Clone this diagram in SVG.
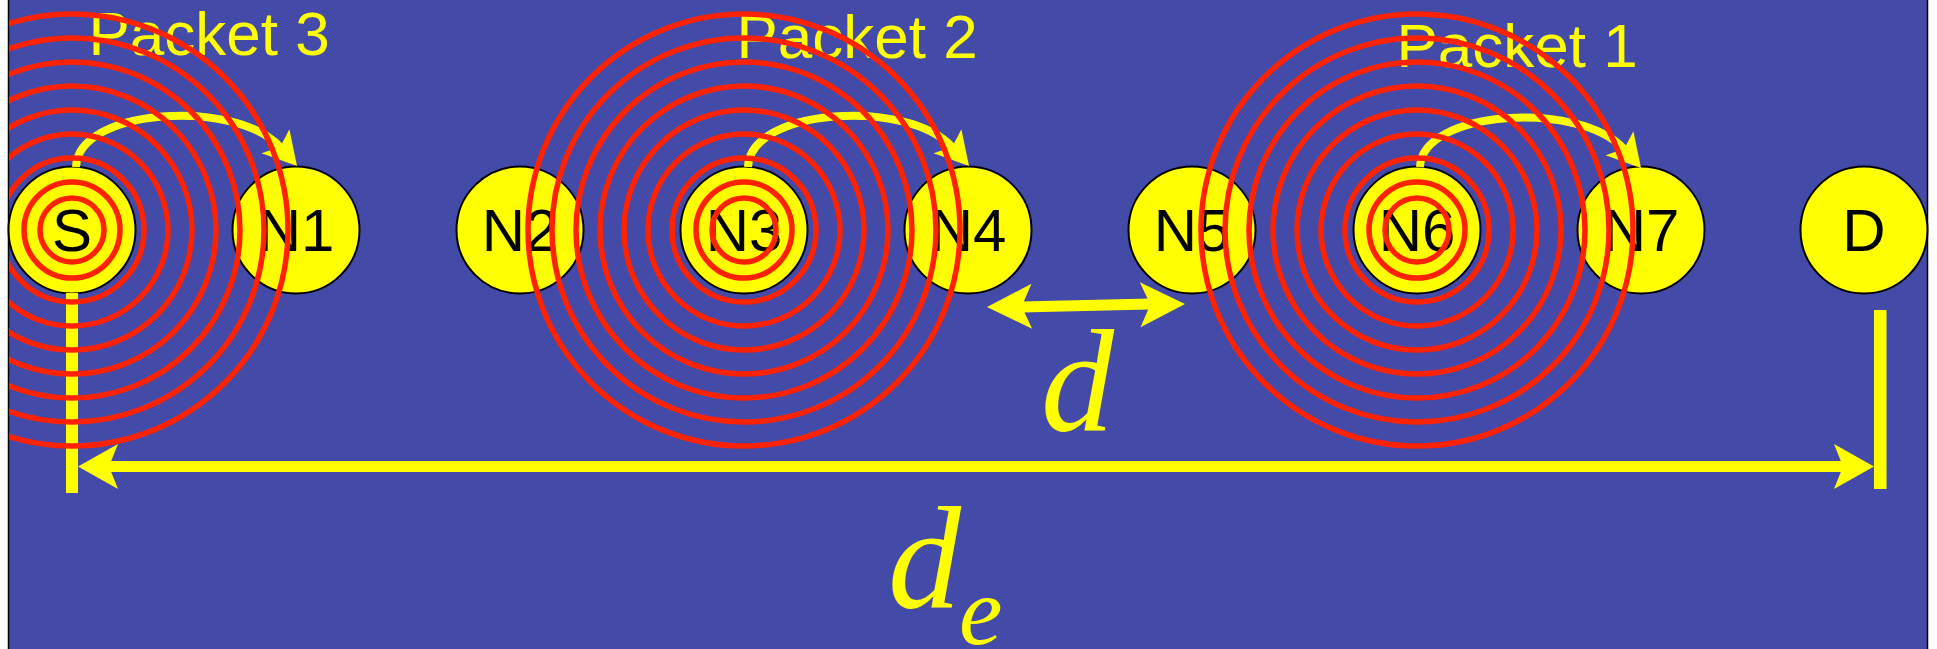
<svg xmlns="http://www.w3.org/2000/svg" xmlns:xlink="http://www.w3.org/1999/xlink" width="1937" height="649" viewBox="0 0 1937 649">
<style>
.node circle{fill:#ffff00;stroke:#000;stroke-width:2}
.nlabel{font-family:"Liberation Sans",Arial,sans-serif;font-size:60px;fill:#000;text-anchor:middle}
.plabel{font-family:"Liberation Sans",Arial,sans-serif;font-size:62px;fill:#ffff00;text-anchor:middle}
.math{font-family:"Liberation Serif","Times New Roman",serif;font-style:italic;fill:#ffff00}
.wave circle{fill:none;stroke:#ff2200;stroke-width:5.5}
.hop{fill:none;stroke:#ffff00;stroke-width:8}
.bar{fill:#ffff00}
.ah{fill:#ffff00}
</style>
<defs>
<path id="ah" d="M0 0 L-40 -22.5 L-31 0 L-40 22.5 Z"/>
<g id="waves" class="wave">
<circle r="32"/><circle r="48"/><circle r="72"/><circle r="96"/><circle r="120"/><circle r="144"/><circle r="168"/><circle r="192"/><circle r="216"/>
</g>
<clipPath id="bg"><rect x="9" y="0" width="1918" height="649"/></clipPath>
</defs>
<rect x="0" y="0" width="1937" height="649" fill="#ffffff"/>
<rect x="8.5" y="-5" width="1919" height="660" fill="#444aa8" stroke="#000" stroke-width="1.5"/>

<g id="node-S" class="node"><circle cx="72" cy="230" r="63.5"/><text class="nlabel" x="72" y="251">S</text></g>
<g id="node-N1" class="node"><circle cx="296" cy="230" r="63.5"/><text class="nlabel" x="296" y="251">N1</text></g>
<g id="node-N2" class="node"><circle cx="520" cy="230" r="63.5"/><text class="nlabel" x="520" y="251">N2</text></g>
<g id="node-N3" class="node"><circle cx="744" cy="230" r="63.5"/><text class="nlabel" x="744" y="251">N3</text></g>
<g id="node-N4" class="node"><circle cx="968" cy="230" r="63.5"/><text class="nlabel" x="968" y="251">N4</text></g>
<g id="node-N5" class="node"><circle cx="1192" cy="230" r="63.5"/><text class="nlabel" x="1192" y="251">N5</text></g>
<g id="node-N6" class="node"><circle cx="1417" cy="230" r="63.5"/><text class="nlabel" x="1417" y="251">N6</text></g>
<g id="node-N7" class="node"><circle cx="1641" cy="230" r="63.5"/><text class="nlabel" x="1641" y="251">N7</text></g>
<g id="node-D" class="node"><circle cx="1864" cy="230" r="63.5"/><text class="nlabel" x="1864" y="251">D</text></g>

<g id="connectors">
<g id="hop-S-N1">
<path class="hop" d="M76 167 C78 108 235 98 280 147"/>
<use href="#ah" class="ah" transform="translate(297,166) rotate(49) scale(0.82)"/>
</g>
<g id="hop-N3-N4" transform="translate(672,0)">
<path class="hop" d="M76 167 C78 108 235 98 280 147"/>
<use href="#ah" class="ah" transform="translate(297,166) rotate(49) scale(0.82)"/>
</g>
<g id="hop-N6-N7" transform="translate(1344,2)">
<path class="hop" d="M76 165 C78 108 235 98 280 147"/>
<use href="#ah" class="ah" transform="translate(297,166) rotate(49) scale(0.82)"/>
</g>
<g id="dim-d">
<path d="M1021 307 L1150 304" stroke="#ffff00" stroke-width="11" fill="none"/>
<use href="#ah" class="ah" transform="translate(987,307) rotate(179.13) scale(1.12,1)"/>
<use href="#ah" class="ah" transform="translate(1185,304) rotate(-0.87) scale(1.12,1)"/>
</g>
<g id="dim-de">
<rect class="bar" x="66" y="293" width="12" height="200"/>
<rect class="bar" x="1874" y="310" width="12.5" height="179"/>
<rect class="bar" x="108" y="461" width="1738" height="11"/>
<use href="#ah" class="ah" transform="translate(78,466.5) rotate(180)"/>
<use href="#ah" class="ah" transform="translate(1874,466.5)"/>
</g>
</g>

<g id="labels">
<text class="plabel" x="209" y="55">Packet 3</text>
<text class="plabel" x="857" y="58">Packet 2</text>
<text class="plabel" x="1517" y="67">Packet 1</text>
<text class="math" x="1041" y="431" font-size="146">d</text>
<text class="math" x="888" y="608" font-size="146">d</text>
<text class="math" x="959" y="644" font-size="98">e</text>
</g>

<g id="transmissions" clip-path="url(#bg)">
<use href="#waves" x="72" y="230"/>
<use href="#waves" x="744" y="230"/>
<use href="#waves" x="1417" y="230"/>
</g>
</svg>
